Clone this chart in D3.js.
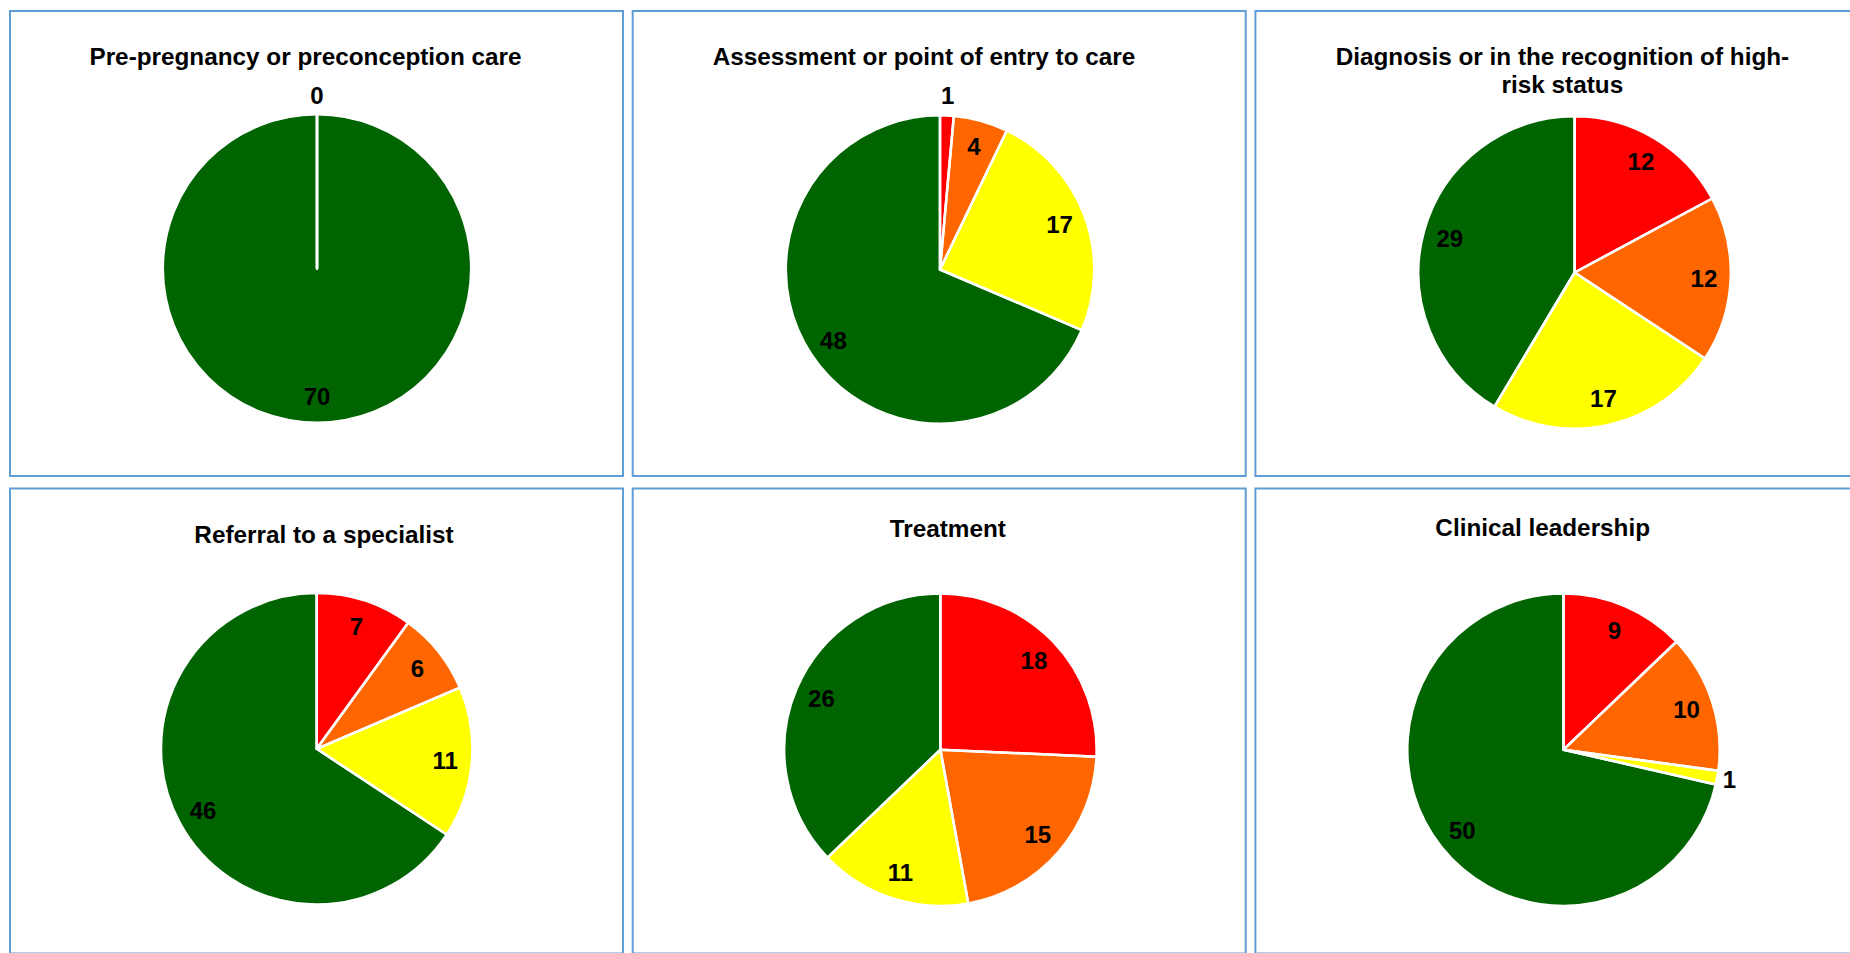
<!DOCTYPE html>
<html>
<head>
<meta charset="utf-8">
<script src="https://cdn.jsdelivr.net/npm/d3@7/dist/d3.min.js"></script>
<style>
  html, body { margin: 0; padding: 0; background: #ffffff; }
  svg { display: block; }
  text { font-family: "Liberation Sans", Arial, Helvetica, sans-serif; font-weight: bold; fill: #000; }
</style>
</head>
<body>
<svg id="chart" width="1850" height="953"></svg>
<script>
// Rating order within every pie, clockwise from 12 o'clock
const grades = ["Red", "Orange", "Yellow", "Green"];
const gradeColors = ["#ff0000", "#ff6600", "#ffff00", "#006400"];

// Panel titles (the third one wraps onto two lines)
const titles = [
  ["Pre-pregnancy or preconception care"],
  ["Assessment or point of entry to care"],
  ["Diagnosis or in the recognition of high-", "risk status"],
  ["Referral to a specialist"],
  ["Treatment"],
  ["Clinical leadership"]
];

// Counts per grade for each stage of care
const prePregnancy = [0, 0, 0, 70];
const assessment   = [1, 4, 17, 48];
const diagnosis    = [12, 12, 17, 29];
const referral     = [7, 6, 11, 46];
const treatment    = [18, 15, 11, 26];
const leadership   = [9, 10, 1, 50];

const seriesByPanel = [prePregnancy, assessment, diagnosis, referral, treatment, leadership];

// Panel frame geometry
const panelW = 613, panelH = 465;
const colX = [10, 632.7, 1255.4];
const rowY = [11, 488.5];

// Per-panel placement of title and plot inside its frame
const panelLayout = [
  { tx: 295.5, ty: 54,   cx: 307,   cy: 257.5, r: 153 },
  { tx: 291.3, ty: 54,   cx: 307.3, cy: 258.5, r: 153 },
  { tx: 307,   ty: 54,   cx: 319.2, cy: 261.5, r: 155 },
  { tx: 314,   ty: 54.8, cx: 306.7, cy: 260.3, r: 154.5 },
  { tx: 315.1, ty: 48,   cx: 307.7, cy: 261.2, r: 155 },
  { tx: 287.3, ty: 47.5, cx: 308.1, cy: 261.2, r: 155 }
];

const fontSize = 24.3;
const labelSize = 24;
const lineGap = 27.7;

const svg = d3.select("#chart");
const color = d3.scaleOrdinal().domain(grades).range(gradeColors);
const pie = d3.pie().sort(null).value(d => d.value);

seriesByPanel.forEach((values, i) => {
  const col = i % 3, row = Math.floor(i / 3);
  const L = panelLayout[i];
  const g = svg.append("g").attr("transform", `translate(${colX[col]},${rowY[row]})`);

  // frame
  g.append("rect")
    .attr("x", 0).attr("y", 0)
    .attr("width", panelW).attr("height", panelH)
    .attr("fill", "#fff")
    .attr("stroke", "#5f9dd6")
    .attr("stroke-width", 2);

  // title
  const t = g.append("text")
    .attr("text-anchor", "middle")
    .attr("font-size", fontSize);
  titles[i].forEach((line, k) => {
    t.append("tspan")
      .attr("x", L.tx)
      .attr("y", L.ty + k * lineGap)
      .text(line);
  });

  const data = values.map((v, k) => ({ grade: grades[k], value: v }));
  const arcs = pie(data);
  const total = d3.sum(values);
  const arc = d3.arc().innerRadius(0).outerRadius(L.r + 1.2);

  const plot = g.append("g").attr("transform", `translate(${L.cx},${L.cy})`);

  // slice fills, then white separators on top so zero-width slices still show their edge
  plot.selectAll("path.fill")
    .data(arcs)
    .join("path")
    .attr("class", "fill")
    .attr("d", arc)
    .attr("fill", d => color(d.data.grade));

  plot.selectAll("path.edge")
    .data(arcs)
    .join("path")
    .attr("class", "edge")
    .attr("d", arc)
    .attr("fill", "none")
    .attr("stroke", "#fff")
    .attr("stroke-width", 2.5)
    .attr("stroke-linejoin", "round");

  // value labels: inside for normal slices, just outside the rim for tiny ones;
  // zero slices sit on the same spot, so only one label is written for them
  let zeroShown = false;
  arcs.forEach(d => {
    if (d.data.value === 0) {
      if (zeroShown) return;
      zeroShown = true;
    }
    const mid = (d.startAngle + d.endAngle) / 2;
    const sx = Math.sin(mid), sy = -Math.cos(mid);
    const frac = total ? d.data.value / total : 0;
    let dist;
    if (frac < 0.03) {
      const w = String(d.data.value).length * 0.556 * labelSize;
      const h = 0.716 * labelSize;
      const gap = 4 + 8 * Math.abs(sy);
      dist = L.r + gap + Math.abs(sx) * w / 2 + Math.abs(sy) * h / 2;
    } else {
      dist = L.r * 0.835;
    }
    plot.append("text")
      .attr("x", sx * dist)
      .attr("y", sy * dist)
      .attr("dy", "0.36em")
      .attr("text-anchor", "middle")
      .attr("font-size", labelSize)
      .text(d.data.value);
  });
});
</script>
</body>
</html>
